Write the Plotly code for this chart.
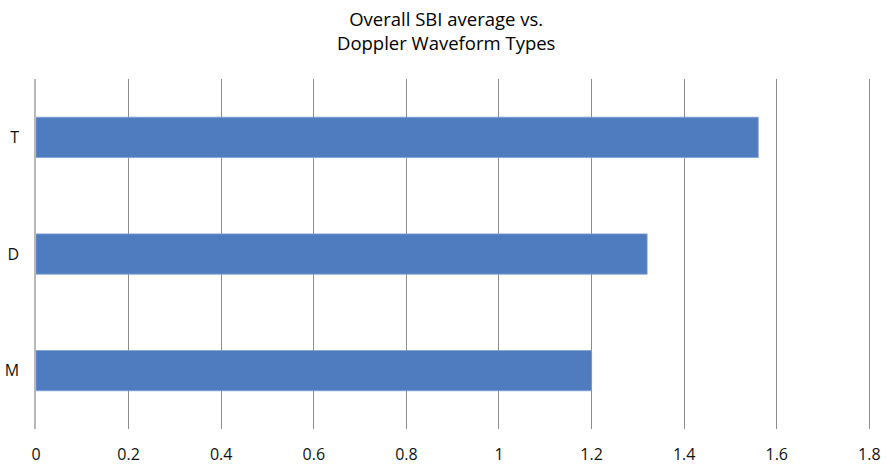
import plotly.graph_objects as go

# Overall SBI average per Doppler waveform type
categories = ["M", "D", "T"]
sbi_average = [1.2, 1.32, 1.56]
x_ticks = [0, 0.2, 0.4, 0.6, 0.8, 1, 1.2, 1.4, 1.6, 1.8]
x_tick_labels = ["0", "0.2", "0.4", "0.6", "0.8", "1", "1.2", "1.4", "1.6", "1.8"]
title_text = "Overall SBI average vs.<br>Doppler Waveform Types"

FONT = "Open Sans, Noto Sans, sans-serif"
W, H = 888, 464
M_L, M_R, M_T, M_B = 36, 14, 79, 35
plot_w = W - M_L - M_R
plot_h = H - M_T - M_B

fig = go.Figure(
    go.Bar(
        x=sbi_average,
        y=categories,
        orientation="h",
        marker=dict(color="#4F7BBF", line=dict(color="#7FA0D2", width=0.8)),
        hoverinfo="x+y",
    )
)

fig.update_layout(
    width=W,
    height=H,
    margin=dict(l=M_L, r=M_R, t=M_T, b=M_B),
    paper_bgcolor="white",
    plot_bgcolor="white",
    bargap=0.655,
    showlegend=False,
    font=dict(family=FONT, size=16, color="#111"),
    xaxis=dict(
        range=[0, 1.81],
        tickmode="array",
        tickvals=x_ticks,
        ticktext=x_tick_labels,
        showgrid=True,
        gridcolor="#8C8C8C",
        gridwidth=1,
        zeroline=False,
        showline=False,
        ticks="outside",
        ticklen=11,
        tickcolor="rgba(0,0,0,0)",
        tickfont=dict(family=FONT, size=16, color="#111"),
        automargin=False,
        fixedrange=True,
    ),
    yaxis=dict(
        categoryorder="array",
        categoryarray=categories,
        showgrid=False,
        zeroline=False,
        showline=True,
        linecolor="#B8B8B8",
        linewidth=1.5,
        ticks="outside",
        ticklen=12,
        tickcolor="rgba(0,0,0,0)",
        tickfont=dict(family=FONT, size=16, color="#111"),
        automargin=False,
        fixedrange=True,
    ),
    annotations=[
        dict(
            text=title_text,
            xref="paper",
            yref="paper",
            x=(446 - M_L) / plot_w,
            y=1 + (M_T - 4) / plot_h,
            xanchor="center",
            yanchor="top",
            showarrow=False,
            align="center",
            font=dict(family=FONT, size=18.5, color="#000"),
        )
    ],
)

fig.write_html("out.html")
